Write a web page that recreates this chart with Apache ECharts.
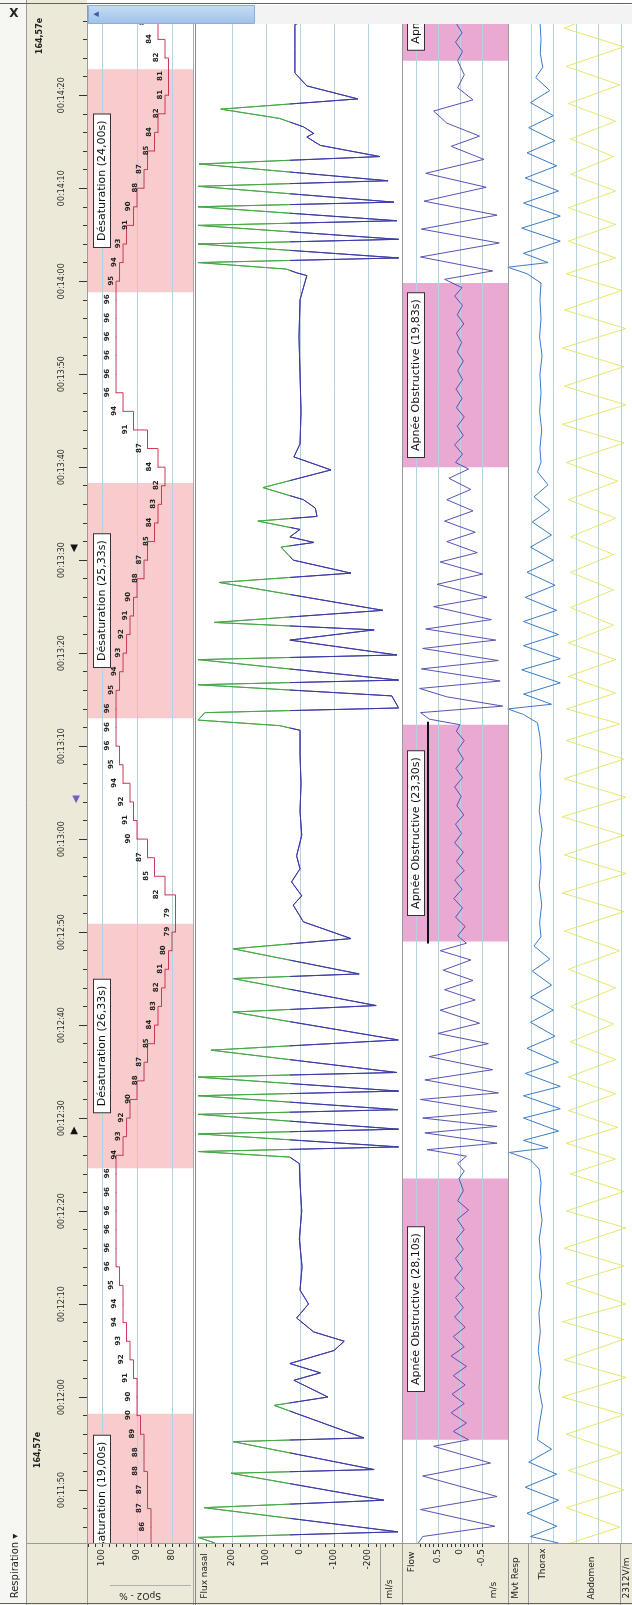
<!DOCTYPE html>
<html>
<head>
<meta charset="utf-8">
<title>Respiration</title>
<script src="https://cdn.jsdelivr.net/npm/echarts@6/dist/echarts.min.js"></script>
<style>
  html, body { margin: 0; padding: 0; background: #fff; }
  #chart { width: 632px; height: 1605px; }
</style>
</head>
<body>
<div id="chart"></div>
<script>
// times are seconds after 00:00:00
var timeLabels = [710, 720, 730, 740, 750, 760, 770, 780, 790, 800, 810, 820, 830, 840, 850, 860];

var spo2Time = [704, 706, 708, 710, 712, 714, 716, 718, 720, 722, 724, 726,
  728, 730, 732, 734, 736, 738, 740, 742, 744, 746,
  748, 750, 752, 754, 756, 758, 760, 762, 764, 766,
  768, 770, 772, 774, 776, 778, 780, 782, 784, 786,
  788, 790, 792, 794, 796, 798, 800, 802, 804, 806,
  808, 810, 812, 814, 816, 818, 820, 822, 824, 826,
  828, 830, 832, 834, 836, 838, 840, 842, 844, 846,
  848, 850, 852, 854, 856, 858, 860, 862, 864, 866, 868];
var spo2Val = [86, 86, 87, 87, 88, 88, 89, 90, 90, 91, 92, 93,
  94, 94, 95, 96, 96, 96, 96, 96, 96, 94,
  93, 92, 90, 88, 87, 85, 84, 83, 82, 81,
  80, 79, 79, 82, 85, 87, 90, 91, 92, 94,
  95, 96, 96, 96, 95, 94, 93, 92, 91, 90,
  88, 87, 85, 84, 83, 82, 84, 87, 91, 94,
  96, 96, 96, 96, 96, 96, 95, 94, 93, 91,
  90, 88, 87, 85, 84, 82, 81, 81, 82, 84, 86];

var desatStart = [699.2, 744.6, 793.0, 838.8];
var desatEnd = [718.2, 770.9, 818.3, 862.8];
var desatText = ['Désaturation (19,00s)', 'Désaturation (26,33s)', 'Désaturation (25,33s)', 'Désaturation (24,00s)'];

var apneaStart = [715.4, 769.0, 820.0, 863.7];
var apneaEnd = [743.5, 792.3, 839.8, 883.7];
var apneaText = ['Apnée Obstructive (28,10s)', 'Apnée Obstructive (23,30s)', 'Apnée Obstructive (19,83s)', 'Apnée Obstructive (20,00s)'];
var apneaSelected = 1;

// [time, ml/s]
var fluxPts = [[704.3, 250], [704.9, 300], [705.5, -288], [708.1, 282], [708.9, -247], [711.8, 203], [712.2, -218],
  [715.2, 197], [715.6, -188], [719.1, 76], [720.0, -82], [721.8, 18], [722.6, -60], [723.6, 30], [725.0, -100],
  [726.0, -130], [727.0, -40], [728.5, 10], [730.0, -25], [731.5, 0], [734.0, -6], [737.0, 2], [740.0, -5], [743.0, 0],
  [745.1, 2], [745.8, 30], [746.4, 300], [746.9, -290], [748.3, 300], [748.8, -290], [750.4, 300], [750.9, -288],
  [752.4, 300], [752.9, -290], [754.4, 300], [754.9, -285], [757.3, 262], [758.4, -289], [761.4, 197], [762.1, -224],
  [765.0, 197], [765.5, -174], [768.2, 197], [769.3, -150], [771.1, -10], [772.9, 20], [773.9, -5], [775.4, 25],
  [776.8, 0], [778.2, 10], [780.4, -5], [783.0, 0], [786.0, -3], [789.0, 0], [791.7, 0], [792.2, 60], [792.8, 300],
  [793.6, 280], [794.1, -290], [795.4, -270], [796.6, 300], [797.1, -290], [799.3, 300], [799.8, -285], [801.4, 30],
  [802.5, -218], [803.3, 253], [804.6, -244], [807.6, 238], [808.6, -150], [810.0, 20], [811.4, 56], [811.9, -41],
  [812.5, 30], [813.3, 0], [814.2, 124], [814.7, -50], [815.6, -45], [816.5, -10], [817.8, 109], [819.7, -91],
  [821.1, 18], [822.5, 0], [826.0, -3], [830.0, 0], [834.0, 3], [838.0, 0], [840.6, -20], [840.9, 10], [841.3, 40],
  [842.0, 300], [842.5, -290], [844.0, 300], [844.5, -290], [846.0, 300], [846.5, -285], [848.0, 300], [848.5, -276],
  [850.2, 300], [850.8, -259], [852.6, 297], [853.4, -235], [854.6, -60], [855.5, -20], [855.9, -40], [856.6, -10],
  [857.5, 60], [858.5, 233], [859.6, -170], [861.0, -20], [862.4, 15], [865.0, 15], [867.6, 15], [867.8, 0], [869.7, 0]];

// [time, flow]
var flowPts = [[704.3, 0.95], [705.0, 0.85], [706.1, -0.8], [707.9, 0.9], [709.3, -0.85], [711.5, 0.85], [712.9, -0.7],
  [714.7, 0.6], [715.4, -0.2], [716.3, 0.15], [717.2, -0.15], [718.3, 0.2], [719.3, -0.1], [720.3, 0.18], [721.3, -0.12],
  [722.3, 0.15], [723.3, -0.15], [724.4, 0.2], [725.4, -0.1], [726.5, 0.15], [727.5, -0.12], [728.6, 0.12], [729.6, -0.08],
  [730.7, 0.1], [731.7, -0.1], [732.8, 0.12], [733.8, -0.06], [734.9, 0.1], [735.9, -0.08], [737.0, 0.08], [738.0, -0.1],
  [739.1, 0.06], [740.1, -0.2], [741.1, 0.05], [742.2, -0.08], [743.5, 0.02], [744.3, -0.1], [745.1, 0.05], [745.9, -0.15],
  [746.6, 0.75], [747.3, -0.85], [748.4, 0.8], [749.1, -0.85], [750.0, 0.85], [750.7, -0.85], [752.0, 0.9], [752.7, -0.88],
  [754.1, 0.8], [755.2, -0.75], [756.6, 0.7], [758.0, -0.65], [759.1, 0.5], [760.2, -0.45], [761.6, 0.45], [762.7, -0.35],
  [763.8, 0.35], [764.8, -0.3], [765.9, 0.38], [767.0, -0.25], [768.0, 0.45], [768.8, -0.15], [769.6, 0.05], [770.6, -0.12],
  [771.6, 0.1], [772.6, -0.06], [773.6, 0.14], [774.6, -0.05], [775.6, 0.12], [776.6, -0.1], [777.6, 0.08], [778.6, -0.08],
  [779.6, 0.12], [780.6, -0.04], [781.6, 0.1], [782.6, -0.09], [783.6, 0.07], [784.6, -0.03], [785.6, 0.12], [786.6, -0.06],
  [787.6, 0.09], [788.6, -0.08], [789.6, 0.05], [790.6, -0.1], [791.6, 0.08], [792.3, 0.0], [792.9, 0.7], [793.6, 0.9],
  [794.3, -0.98], [795.3, 0.3], [796.2, 0.92], [797.0, -0.92], [798.3, 0.88], [799.2, -0.88], [800.5, 0.85], [801.4, -0.82],
  [802.6, 0.78], [803.6, -0.72], [805.0, 0.6], [806.0, -0.62], [807.4, 0.52], [808.5, -0.52], [809.8, 0.45], [810.8, -0.4],
  [812.0, 0.3], [813.0, -0.35], [814.2, 0.35], [815.3, -0.3], [816.5, 0.3], [817.6, -0.25], [818.8, 0.25], [819.8, -0.2],
  [820.5, 0.1], [821.4, -0.06], [822.4, 0.12], [823.4, -0.08], [824.4, 0.06], [825.4, -0.1], [826.4, 0.08], [827.4, -0.05],
  [828.4, 0.09], [829.4, -0.06], [830.4, 0.05], [831.4, -0.08], [832.4, 0.06], [833.4, -0.04], [834.4, 0.08], [835.4, -0.09],
  [836.4, 0.06], [837.4, -0.06], [838.4, 0.12], [839.3, -0.05], [840.2, 0.35], [841.1, -0.75], [842.6, 0.9], [844.1, -0.9],
  [845.6, 0.88], [847.1, -0.85], [848.6, 0.82], [850.1, -0.6], [851.6, 0.78], [853.1, -0.55], [854.5, 0.2], [855.6, -0.45],
  [857.0, 0.3], [858.3, 0.6], [859.5, -0.3], [860.8, 0.05], [862.2, -0.1], [863.7, 0.05], [864.7, -0.06], [865.7, 0.1],
  [866.7, -0.05], [867.7, 0.08], [868.7, -0.04], [869.7, 0.02]];

// [time, thorax effort]
var thoraxPts = [[704.3, -0.5], [705.0, 0.3], [706.1, -0.45], [707.5, 0.4], [708.9, -0.5], [710.3, 0.45], [711.7, -0.45],
  [713.0, 0.35], [714.4, -0.3], [715.4, 0.1], [717.0, 0.05], [719.0, -0.04], [721.0, 0.06], [723.0, 0.0], [725.0, 0.08],
  [727.0, 0.02], [729.0, 0.06], [731.0, -0.02], [733.0, 0.04], [735.0, 0.0], [737.0, 0.05], [739.0, -0.03], [741.0, 0.04],
  [743.0, 0.0], [744.5, 0.05], [745.5, 0.3], [746.3, 0.9], [746.8, -0.2], [747.6, 0.5], [748.6, -0.5], [750.0, 0.5],
  [751.0, -0.55], [752.4, 0.5], [753.4, -0.55], [754.8, 0.45], [756.0, -0.5], [757.5, 0.4], [758.8, -0.4], [760.3, 0.3],
  [761.6, -0.35], [763.0, 0.3], [764.3, -0.3], [765.8, 0.25], [767.1, -0.25], [768.5, 0.2], [769.5, 0.0], [771.0, 0.04],
  [773.0, -0.02], [775.0, 0.05], [777.0, 0.0], [779.0, 0.04], [781.0, -0.03], [783.0, 0.05], [785.0, 0.0], [787.0, 0.03],
  [789.0, -0.02], [791.0, 0.03], [792.5, 0.1], [793.4, 0.5], [794.0, 0.95], [794.5, -0.3], [795.6, 0.5], [796.8, -0.55],
  [798.2, 0.55], [799.4, -0.55], [800.8, 0.5], [802.0, -0.5], [803.4, 0.5], [804.6, -0.45], [806.0, 0.45], [807.3, -0.4],
  [808.7, 0.4], [810.0, -0.35], [811.4, 0.3], [812.7, -0.3], [814.1, 0.25], [815.4, -0.25], [816.8, 0.2], [818.1, -0.2],
  [819.5, 0.1], [820.5, 0.0], [822.0, 0.03], [824.0, -0.02], [826.0, 0.04], [828.0, 0.0], [830.0, 0.03], [832.0, -0.03],
  [834.0, 0.04], [836.0, 0.0], [838.0, 0.03], [839.8, 0.0], [840.8, 0.4], [841.5, 0.95], [842.0, -0.2], [843.0, 0.5],
  [844.3, -0.55], [845.7, 0.55], [847.0, -0.55], [848.4, 0.5], [849.7, -0.5], [851.1, 0.45], [852.4, -0.45], [853.8, 0.4],
  [855.1, -0.4], [856.5, 0.35], [857.8, -0.35], [859.2, 0.3], [860.5, -0.25], [861.9, 0.15], [863.0, -0.05], [864.5, 0.02],
  [866.0, 0.0], [868.0, 0.03], [869.7, 0.0]];

// [time, abdomen effort]
var abdomenPts = [[704.3, 0.5], [706.0, -0.7], [708.1, 0.6], [710.0, -0.8], [712.1, 0.55], [714.0, -0.75], [716.0, 0.6],
  [718.1, -0.8], [720.0, 0.7], [722.1, -0.85], [724.0, 0.65], [726.2, -0.8], [728.1, 0.7], [730.0, -0.85], [732.2, 0.6],
  [734.1, -0.8], [736.0, 0.65], [738.2, -0.85], [740.0, 0.6], [742.1, -0.8], [744.0, 0.5], [745.6, -0.6], [747.3, 0.6],
  [749.0, -0.65], [750.8, 0.55], [752.6, -0.6], [754.4, 0.55], [756.3, -0.6], [758.2, 0.5], [760.1, -0.55], [762.0, 0.5],
  [764.0, -0.6], [766.0, 0.55], [768.0, -0.7], [770.1, 0.65], [772.2, -0.8], [774.2, 0.7], [776.3, -0.85], [778.3, 0.65],
  [780.4, -0.8], [782.4, 0.7], [784.5, -0.85], [786.5, 0.65], [788.6, -0.8], [790.6, 0.6], [792.4, -0.7], [794.0, 0.6],
  [795.7, -0.6], [797.5, 0.55], [799.3, -0.6], [801.1, 0.55], [803.0, -0.55], [804.9, 0.5], [806.8, -0.55], [808.7, 0.5],
  [810.6, -0.55], [812.5, 0.5], [814.5, -0.6], [816.5, 0.55], [818.5, -0.65], [820.5, 0.6], [822.6, -0.8], [824.6, 0.7],
  [826.7, -0.85], [828.7, 0.65], [830.8, -0.8], [832.8, 0.7], [834.9, -0.85], [836.9, 0.65], [839.0, -0.75], [840.8, 0.6],
  [842.5, -0.6], [844.3, 0.55], [846.1, -0.6], [847.9, 0.55], [849.7, -0.6], [851.5, 0.5], [853.4, -0.55], [855.3, 0.5],
  [857.2, -0.6], [859.1, 0.55], [861.1, -0.7], [863.1, 0.6], [865.2, -0.8], [867.2, 0.65], [869.7, -0.7]];

var spo2Grid = [100, 90, 80];
var fluxGrid = [200, 100, 0, -100, -200];
var flowGrid = [1, 0.5, 0, -0.5];
var rightGrid = [22.5, 45, 67.5, 90, 112.5];
var fluxTickLabels = [200, 100, 0, -100, -200];
var flowTickLabels = [0.5, 0, -0.5];
var fluxColourSplit = 30; // above this the nasal flow trace is drawn green

var T_MIN = 704.3, T_MAX = 869.7;
var FONT = 'DejaVu Sans';
var ROT = Math.PI / 2;
var GREEN = '#48a848', BLUE = '#3c3ca8';

function pad2(n) { return (n < 10 ? '0' : '') + n; }
function hms(s) {
  s = Math.round(s);
  return pad2(Math.floor(s / 3600)) + ':' + pad2(Math.floor(s / 60) % 60) + ':' + pad2(s % 60);
}
function range(a, b, step) {
  var out = [];
  for (var v = a; v <= b + 1e-9; v += step) out.push(Math.round(v * 100) / 100);
  return out;
}
function swap(pts) { return pts.map(function (p) { return [p[1], p[0]]; }); }
function pairs(a, b) { return a.map(function (v, i) { return [v, b[i]]; }); }

var chart = echarts.init(document.getElementById('chart'));

function eventRect(color) {
  return function (params, api) {
    var cs = params.coordSys;
    var yTop = api.coord([0, api.value(1)])[1];
    var yBot = api.coord([0, api.value(0)])[1];
    return { type: 'rect', shape: { x: cs.x, y: yTop, width: cs.width, height: yBot - yTop }, style: { fill: color } };
  };
}

function eventLabel(texts, dx, selected) {
  return function (params, api) {
    var cs = params.coordSys;
    var yTop = api.coord([0, api.value(1)])[1];
    var yBot = api.coord([0, api.value(0)])[1];
    var kids = [{
      type: 'text', x: cs.x + dx, y: (yTop + yBot) / 2, rotation: ROT,
      style: {
        text: texts[params.dataIndex], fill: '#111', font: '11px "' + FONT + '"',
        align: 'center', verticalAlign: 'middle', backgroundColor: '#fff',
        borderColor: '#333', borderWidth: 1, padding: [3, 6, 2, 6]
      }
    }];
    if (params.dataIndex === selected) {
      kids.push({ type: 'line', shape: { x1: cs.x + dx + 12, y1: yTop - 3, x2: cs.x + dx + 12, y2: yBot + 2 },
        style: { stroke: '#111', lineWidth: 2 } });
    }
    return { type: 'group', children: kids };
  };
}

function vline(color) {
  return function (params, api) {
    var cs = params.coordSys;
    var x = Math.round(api.coord([api.value(0), T_MIN])[0]) + 0.5;
    return { type: 'line', shape: { x1: x, y1: cs.y, x2: x, y2: cs.y + cs.height }, style: { stroke: color, lineWidth: 1 } };
  };
}

function gridOf(left, width) {
  return { left: left, width: width, top: 5, bottom: 62, outerBoundsMode: 'none' };
}
function timeAxis(grid) {
  return { type: 'value', gridIndex: grid, min: T_MIN, max: T_MAX, show: false, axisLine: { onZero: false } };
}
var axisLabelStyle = { rotate: 90, fontSize: 9, color: '#222', fontFamily: FONT, margin: 6 };
function txt(x, y, text, rot, font, color) {
  return { type: 'text', z: 12, x: x, y: y, rotation: rot || 0,
    style: { text: text, fill: color || '#222', font: font || ('9px "' + FONT + '"'), align: 'center', verticalAlign: 'middle' } };
}

var option = {
  animation: false,
  backgroundColor: '#fff',
  grid: [gridOf(87, 106), gridOf(196, 206), gridOf(403, 105), gridOf(506, 70), gridOf(550, 82), gridOf(508, 124)],
  xAxis: [
    { type: 'value', gridIndex: 0, min: 74, max: 104.3, inverse: true, position: 'bottom',
      axisLine: { show: true, onZero: false, lineStyle: { color: '#8c8c8c' } },
      axisTick: { show: true, customValues: range(76, 104, 2), length: 4, lineStyle: { color: '#333' } },
      axisLabel: Object.assign({ customValues: spo2Grid }, axisLabelStyle), splitLine: { show: false } },
    { type: 'value', gridIndex: 1, min: -300, max: 306, inverse: true, position: 'bottom',
      axisLine: { show: true, onZero: false, lineStyle: { color: '#8c8c8c' } },
      axisTick: { show: true, customValues: range(-275, 300, 25), length: 4, lineStyle: { color: '#333' } },
      axisLabel: Object.assign({ customValues: fluxTickLabels }, axisLabelStyle), splitLine: { show: false } },
    { type: 'value', gridIndex: 2, min: -1.1, max: 1.3, inverse: true, position: 'bottom',
      axisLine: { show: true, onZero: false, lineStyle: { color: '#8c8c8c' } },
      axisTick: { show: true, customValues: range(-0.5, 0.9, 0.1), length: 4, lineStyle: { color: '#333' } },
      axisLabel: Object.assign({ customValues: flowTickLabels }, axisLabelStyle), splitLine: { show: false } },
    { type: 'value', gridIndex: 3, min: -1, max: 1, inverse: true, show: false },
    { type: 'value', gridIndex: 4, min: -1, max: 1, inverse: true, show: false },
    { type: 'value', gridIndex: 5, min: 0, max: 124, show: false }
  ],
  yAxis: [
    { type: 'value', gridIndex: 0, min: T_MIN, max: T_MAX, position: 'left',
      axisLine: { show: false, onZero: false },
      axisTick: { show: true, customValues: timeLabels, length: 8, lineStyle: { color: '#333' } },
      axisLabel: { customValues: timeLabels, rotate: 90, formatter: hms, fontSize: 8, color: '#2a2a2a', fontFamily: FONT, margin: 21 },
      splitLine: { show: false } },
    { type: 'value', gridIndex: 0, min: T_MIN, max: T_MAX, position: 'left',
      axisLine: { show: false, onZero: false },
      axisTick: { show: true, customValues: range(706, 868, 2), length: 4, lineStyle: { color: '#333' } },
      axisLabel: { show: false }, splitLine: { show: false } },
    timeAxis(1), timeAxis(2), timeAxis(3), timeAxis(4), timeAxis(5)
  ],
  series: [
    { type: 'custom', xAxisIndex: 0, yAxisIndex: 0, z: 1, clip: true, silent: true,
      encode: { y: [0, 1] }, data: pairs(desatStart, desatEnd), renderItem: eventRect('#f8cccc') },
    { type: 'custom', xAxisIndex: 2, yAxisIndex: 3, z: 1, clip: true, silent: true,
      encode: { y: [0, 1] }, data: pairs(apneaStart, apneaEnd), renderItem: eventRect('#e9a9d2') },
    { type: 'custom', xAxisIndex: 0, yAxisIndex: 0, z: 2, silent: true, encode: { x: 0, y: 1 },
      data: spo2Grid.map(function (v) { return [v, T_MIN]; }), renderItem: vline('#b4d2e2') },
    { type: 'custom', xAxisIndex: 1, yAxisIndex: 2, z: 2, silent: true, encode: { x: 0, y: 1 },
      data: fluxGrid.map(function (v) { return [v, T_MIN]; }), renderItem: vline('#b4d2e2') },
    { type: 'custom', xAxisIndex: 2, yAxisIndex: 3, z: 2, silent: true, encode: { x: 0, y: 1 },
      data: flowGrid.map(function (v) { return [v, T_MIN]; }), renderItem: vline('#b4d2e2') },
    { type: 'custom', xAxisIndex: 5, yAxisIndex: 6, z: 2, silent: true, encode: { x: 0, y: 1 },
      data: rightGrid.map(function (v) { return [v, T_MIN]; }), renderItem: vline('#b4d2e2') },
    { type: 'line', xAxisIndex: 0, yAxisIndex: 0, z: 3, step: 'start', symbol: 'circle', symbolSize: 1, clip: true,
      data: pairs(spo2Val, spo2Time), lineStyle: { color: '#c83a58', width: 1 }, itemStyle: { color: '#c83a58' },
      label: { show: true, formatter: function (p) { return p.value[0]; }, rotate: 90, position: [-8, 0],
        align: 'center', verticalAlign: 'middle', fontSize: 7, fontWeight: 'bold', color: '#1e1e1e', fontFamily: FONT } },
    { type: 'line', xAxisIndex: 1, yAxisIndex: 2, z: 3, symbol: 'none', data: swap(fluxPts),
      lineStyle: { color: BLUE, width: 1 } },
    { type: 'line', xAxisIndex: 2, yAxisIndex: 3, z: 3, symbol: 'none', data: swap(flowPts),
      lineStyle: { color: '#5454b4', width: 1 } },
    { type: 'line', xAxisIndex: 3, yAxisIndex: 4, z: 3, symbol: 'none', data: swap(thoraxPts),
      lineStyle: { color: '#3a7cc4', width: 1 } },
    { type: 'line', xAxisIndex: 4, yAxisIndex: 5, z: 3, symbol: 'none', data: swap(abdomenPts),
      lineStyle: { color: '#e2e256', width: 1, opacity: 0.85 } },
    { type: 'custom', xAxisIndex: 0, yAxisIndex: 0, z: 5, clip: true, silent: true,
      encode: { y: [0, 1] }, data: pairs(desatStart, desatEnd), renderItem: eventLabel(desatText, 15, -1) },
    { type: 'custom', xAxisIndex: 2, yAxisIndex: 3, z: 5, clip: true, silent: true,
      encode: { y: [0, 1] }, data: pairs(apneaStart, apneaEnd), renderItem: eventLabel(apneaText, 13, apneaSelected) }
  ],
  graphic: [
    { type: 'rect', z: -10, shape: { x: 0, y: 0, width: 26, height: 1605 }, style: { fill: '#f6f6f3' } },
    { type: 'rect', z: -10, shape: { x: 26, y: 0, width: 61, height: 1605 }, style: { fill: '#ece9d8' } },
    { type: 'rect', z: -10, shape: { x: 87, y: 1543, width: 545, height: 62 }, style: { fill: '#ece9d8' } },
    { type: 'line', z: 10, shape: { x1: 26.5, y1: 0, x2: 26.5, y2: 1605 }, style: { stroke: '#9a9a9a' } },
    { type: 'line', z: 10, shape: { x1: 87.5, y1: 5, x2: 87.5, y2: 1605 }, style: { stroke: '#9a9a9a' } },
    { type: 'line', z: 10, shape: { x1: 193.5, y1: 5, x2: 193.5, y2: 1605 }, style: { stroke: '#a8a8a8' } },
    { type: 'line', z: 10, shape: { x1: 195.5, y1: 5, x2: 195.5, y2: 1605 }, style: { stroke: '#8a8a8a' } },
    { type: 'line', z: 10, shape: { x1: 402.5, y1: 5, x2: 402.5, y2: 1605 }, style: { stroke: '#9a9a9a' } },
    { type: 'line', z: 10, shape: { x1: 508.5, y1: 5, x2: 508.5, y2: 1605 }, style: { stroke: '#9a9a9a' } },
    { type: 'line', z: 10, shape: { x1: 380.5, y1: 1543, x2: 380.5, y2: 1605 }, style: { stroke: '#9a9a9a' } },
    { type: 'line', z: 10, shape: { x1: 528.5, y1: 1543, x2: 528.5, y2: 1605 }, style: { stroke: '#9a9a9a' } },
    { type: 'line', z: 10, shape: { x1: 620.5, y1: 1543, x2: 620.5, y2: 1605 }, style: { stroke: '#9a9a9a' } },
    { type: 'line', z: 10, shape: { x1: 26, y1: 1543.5, x2: 632, y2: 1543.5 }, style: { stroke: '#9a9a9a' } },
    { type: 'line', z: 10, shape: { x1: 110, y1: 1585.5, x2: 191, y2: 1585.5 }, style: { stroke: '#b0b0b0' } },
    { type: 'line', z: 10, shape: { x1: 0, y1: 3.5, x2: 632, y2: 3.5 }, style: { stroke: '#606060' } },
    { type: 'line', z: 10, shape: { x1: 0, y1: 1603.5, x2: 632, y2: 1603.5 }, style: { stroke: '#606060' } },
    { type: 'rect', z: 10, shape: { x: 255, y: 5, width: 377, height: 19 }, style: { fill: '#f3f3f3' } },
    { type: 'rect', z: 11, shape: { x: 88.5, y: 5.5, width: 166, height: 18 },
      style: { fill: new echarts.graphic.LinearGradient(0, 0, 0, 1, [{ offset: 0, color: '#c6dcf4' }, { offset: 1, color: '#9ec2ea' }]),
        stroke: '#8aaedc' } },
    txt(96, 14, '◂', 0, 'bold 11px "' + FONT + '"', '#3a5ea8'),
    txt(14, 14, 'X', 0, 'bold 12px "' + FONT + '"', '#222'),
    txt(15, 1566, 'Respiration ▾', ROT, '10px "' + FONT + '"'),
    txt(40, 36, '164,57e', ROT, 'bold 8px "' + FONT + '"'),
    txt(38, 1450, '164,57e', ROT, 'bold 8px "' + FONT + '"'),
    txt(74, 548, '▼', 0, '10px "' + FONT + '"', '#111'),
    txt(76, 799, '▼', 0, '10px "' + FONT + '"', '#7a5cc8'),
    txt(74, 1130, '▲', 0, '10px "' + FONT + '"', '#111'),
    txt(140, 1595, 'SpO2 - %', Math.PI),
    txt(205, 1576, 'Flux nasal', ROT),
    txt(390, 1589, 'ml/s', ROT),
    txt(412, 1562, 'Flow', ROT),
    txt(494, 1590, 'm/s', ROT),
    txt(516, 1578, 'Mvt Resp', ROT),
    txt(543, 1564, 'Thorax', ROT),
    txt(592, 1578, 'Abdomen', ROT),
    txt(627, 1578, '2312V/m', ROT)
  ]
};

chart.setOption(option);

// colour the nasal flow trace green where flow is above the split value, using the axis scale
var xSplit = chart.convertToPixel({ xAxisIndex: 1 }, fluxColourSplit);
var xLeft = chart.convertToPixel({ xAxisIndex: 1 }, 306);
var xRight = chart.convertToPixel({ xAxisIndex: 1 }, -300);
var f = (xSplit - xLeft) / (xRight - xLeft);
chart.setOption({
  series: [{}, {}, {}, {}, {}, {}, {}, {
    lineStyle: {
      color: new echarts.graphic.LinearGradient(xLeft, 0, xRight, 0, [
        { offset: 0, color: GREEN }, { offset: f, color: GREEN },
        { offset: f, color: BLUE }, { offset: 1, color: BLUE }], true)
    }
  }]
});
</script>
</body>
</html>
